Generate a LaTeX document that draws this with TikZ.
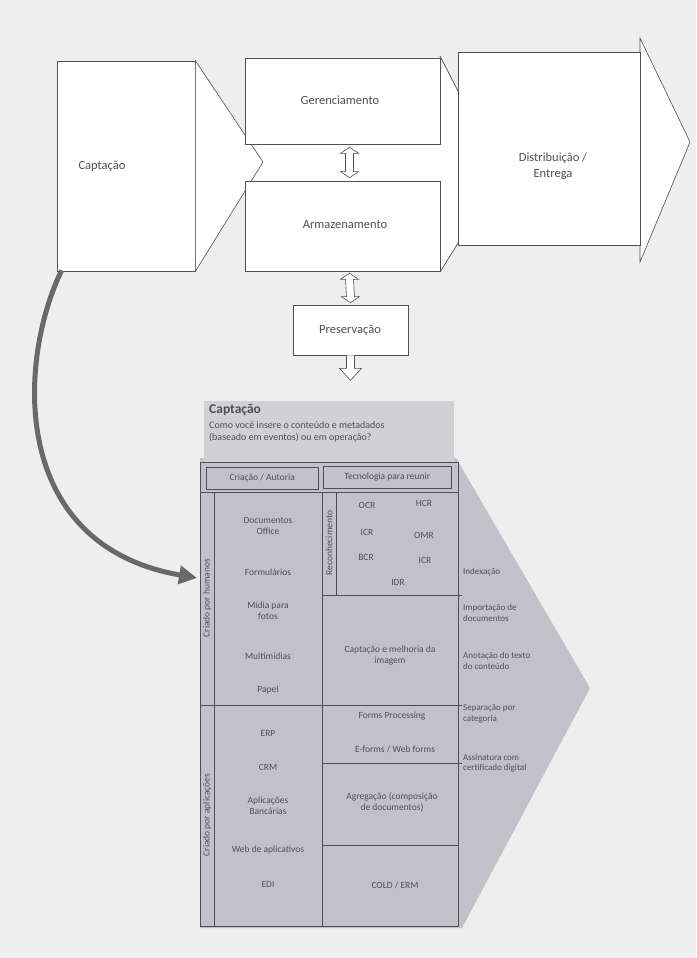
\documentclass[tikz,border=0pt]{standalone}
\usepackage{fontspec}
\setmainfont{Carlito}
\usetikzlibrary{arrows.meta,calc}

\definecolor{paper}{RGB}{238,238,238}
\definecolor{ink}{RGB}{80,80,84}
\definecolor{hdrgray}{RGB}{208,208,213}
\definecolor{bodygray}{RGB}{193,193,199}
\definecolor{bendgray}{RGB}{105,105,108}

\tikzset{
  box/.style={draw=ink, fill=white, line width=0.7pt},
  lbl/.style={text=ink, font=\fontsize{12.5}{16}\selectfont, align=center},
  cell/.style={text=ink, font=\fontsize{9.5}{11}\selectfont, align=center, inner sep=1pt},
  side/.style={text=ink, font=\fontsize{9}{10.5}\selectfont, align=left, anchor=west, inner sep=1pt},
  grid/.style={draw=ink, line width=0.8pt},
  hollow/.style={draw=ink, fill=white, line width=0.6pt},
}

% hollow double arrow, #1 upper end, #2 lower end
\newcommand{\dblarr}[2]{%
  \draw[hollow] ($(#1)+(-4,6)$) -- ($(#1)+(-9,6)$) -- (#1) -- ($(#1)+(9,6)$) -- ($(#1)+(4,6)$)
    -- ($(#2)+(4,-6)$) -- ($(#2)+(9,-6)$) -- (#2) -- ($(#2)+(-9,-6)$) -- ($(#2)+(-4,-6)$) -- cycle;}

\begin{document}
\begin{tikzpicture}[x=1pt,y=-1pt]
\fill[paper] (0,0) rectangle (696,958);
\useasboundingbox (0,0) rectangle (696,958);

% top row
\fill[white] (245,58) -- (440,58) -- (460,95) -- (460,240) -- (440,272) -- (245,272) -- cycle;
\node[box, minimum width=138, minimum height=210] (capt) at (126,166) {};
\draw[hollow] (capt.north east) -- (263,162) -- (capt.south east) -- cycle;
\node[lbl] (captlbl) at (102,166) {Captação};

\draw[ink, line width=0.7pt] (440,56) -- (460,95) -- (460,240) -- (440,272);
\node[box, minimum width=195, minimum height=86] (geren) at (342.5,101) {};
\node[box, minimum width=195, minimum height=90] (armaz) at (342.5,226) {};
\node[lbl] (gerenlbl) at (340,100) {Gerenciamento};
\node[lbl] (armazlbl) at (345,225) {Armazenamento};

\draw[hollow] (640,38) -- (690,142) -- (640,262) -- cycle;
\node[box, minimum width=182, minimum height=193] (dist) at (549,148.5) {};
\node[lbl] (distlbl) at (553,166) {Distribuição /\\Entrega};

\node[box, minimum width=115, minimum height=50] (pres) at (350.5,330) {};
\node[lbl] (preslbl) at (350,330) {Preservação};

\coordinate (g1) at ([xshift=7pt,yshift=-3pt]geren.south);
\coordinate (a1) at ([xshift=7pt,yshift=3pt]armaz.north);
\coordinate (a2) at ([xshift=7pt,yshift=-2pt]armaz.south);
\coordinate (p1) at ([yshift=2pt]pres.north);
\dblarr{g1}{a1}
\dblarr{a2}{p1}
\draw[hollow] ($(pres.south)+(-4,0)$) -- ($(pres.south)+(-4,13)$) -- ($(pres.south)+(-11,13)$)
  -- ($(pres.south)+(0,25)$) -- ($(pres.south)+(11,13)$) -- ($(pres.south)+(4,13)$) -- ($(pres.south)+(4,0)$);

% lower panel
\fill[bodygray] (200,458) -- (456,458) -- (590,688) -- (462,928) -- (200,928) -- cycle;
\node[fill=hdrgray, minimum width=250, minimum height=62, anchor=north west, inner sep=0] (hdr) at (204,401) {};
\node[anchor=north west, text=ink, font=\bfseries\fontsize{13.5}{16}\selectfont, inner sep=0] (hdrtitle) at (209,404) {Captação};
\node[anchor=north west, text=ink, font=\fontsize{10}{12.5}\selectfont, align=left, inner sep=0] (hdrtext) at (209,421)
  {Como você insere o conteúdo e metadados\\(baseado em eventos) ou em operação?};

\draw[grid] (200,462) rectangle (458,926);
\node[draw=ink, cell, minimum width=112, minimum height=22, anchor=north west] (autoria) at (206,467) {Criação / Autoria};
\node[draw=ink, cell, minimum width=128, minimum height=22, anchor=north west] (tecno) at (323,466) {Tecnologia para reunir};
\draw[grid] (200,492) -- (458,492);
\draw[grid] (214,492) -- (214,926);
\draw[grid] (322,492) -- (322,926);
\draw[grid] (200,705) -- (462,705);
\draw[grid] (336,492) -- (336,595);
\draw[grid] (322,595) -- (462,595);
\draw[grid] (322,763) -- (462,763);
\draw[grid] (322,845) -- (458,845);

\node[cell, rotate=90] (humanos) at (207,598) {Criado por humanos};
\node[cell, rotate=90] (aplic) at (207,815) {Criado por aplicações};
\node[cell, rotate=90] (recon) at (329,543) {Reconhecimento};

\node[cell] (docof) at (268,526) {Documentos\\Office};
\node[cell] (formul) at (268,572) {Formulários};
\node[cell] (midia) at (268,611) {Mídia para\\fotos};
\node[cell] (multi) at (268,656) {Multimídias};
\node[cell] (papel) at (268,690) {Papel};
\node[cell] (erp) at (268,733) {ERP};
\node[cell] (crm) at (268,767) {CRM};
\node[cell] (aplban) at (268,806) {Aplicações\\Bancárias};
\node[cell] (web) at (268,850) {Web de aplicativos};
\node[cell] (edi) at (268,884) {EDI};

\node[cell] (ocr) at (367,505) {OCR};
\node[cell] (hcr) at (424,503) {HCR};
\node[cell] (icr) at (367,532) {ICR};
\node[cell] (omr) at (424,535) {OMR};
\node[cell] (bcr) at (366,557) {BCR};
\node[cell] (icrb) at (425,560) {ICR};
\node[cell] (idr) at (398,582) {IDR};
\node[cell] (imagem) at (390,656) {Captação e melhoria da\\imagem};
\node[cell] (forms) at (392,716) {Forms Processing};
\node[cell] (eforms) at (395,749) {E-forms / Web forms};
\node[cell] (agreg) at (392,802) {Agregação (composição\\de documentos)};
\node[cell] (cold) at (395,885) {COLD / ERM};

\node[side] (index) at (462,572) {Indexação};
\node[side] (import) at (462,613) {Importação de\\documentos};
\node[side] (anot) at (462,661) {Anotação do texto\\do conteúdo};
\node[side] (separ) at (462,714) {Separação por\\categoria};
\node[side] (assin) at (462,763) {Assinatura com\\certificado digital};

% bend from Captação down to the panel
\coordinate (tbl) at (197,578);
\draw[bendgray, line width=5pt, -{Triangle[length=18pt,width=18pt]}]
  ([xshift=5pt,yshift=1pt]capt.south west) .. controls (18,360) and (8,545) .. (tbl);
\end{tikzpicture}
\end{document}
